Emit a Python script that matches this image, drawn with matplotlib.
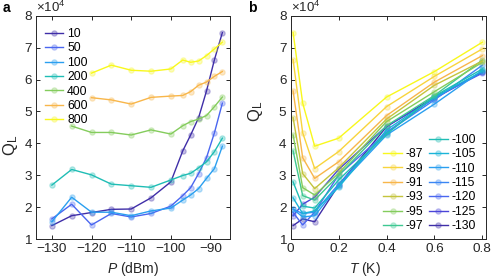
import matplotlib
matplotlib.use('Agg')
import matplotlib.pyplot as plt
from matplotlib.lines import Line2D

plt.rcParams['font.family'] = ['Liberation Sans', 'DejaVu Sans']
plt.rcParams['mathtext.fontset'] = 'custom'
plt.rcParams['mathtext.rm'] = 'Liberation Sans'
plt.rcParams['mathtext.it'] = 'Liberation Sans:italic'

# powers (dBm) and temperatures (K)
powers = [-130, -125, -120, -115, -110, -105, -100, -97, -95, -93, -91, -89, -87]
temps = [0.01, 0.05, 0.1, 0.2, 0.4, 0.6, 0.8]
temp_labels = ['10', '50', '100', '200', '400', '600', '800']

# loaded Q (x1e4) for each temperature, over the powers above
q_10 = [1.42, 1.73, 1.83, 1.93, 1.94, 2.29, 2.79, 3.76, 4.26, 4.80, 5.64, 6.62, 7.47]
q_50 = [1.63, 2.09, 1.44, 1.80, 1.69, 1.80, 2.03, 2.36, 2.61, 3.05, 3.55, 4.33, 5.26]
q_100 = [1.54, 2.31, 1.84, 1.84, 1.73, 1.88, 1.97, 2.22, 2.38, 2.58, 2.90, 3.21, 3.91]
q_200 = [2.69, 3.18, 3.01, 2.72, 2.67, 2.62, 2.85, 2.99, 3.06, 3.23, 3.42, 3.74, 4.16]
q_400 = [4.52, 4.54, 4.34, 4.34, 4.26, 4.42, 4.29, 4.55, 4.68, 4.76, 4.87, 5.15, 5.45]
q_600 = [5.45, 5.40, 5.43, 5.36, 5.23, 5.44, 5.48, 5.50, 5.62, 5.82, 5.92, 6.10, 6.25]
q_800 = [6.22, 6.25, 6.20, 6.45, 6.29, 6.26, 6.33, 6.61, 6.54, 6.58, 6.75, 6.96, 7.17]
q_all = [q_10, q_50, q_100, q_200, q_400, q_600, q_800]

# first power shown in panel a for each temperature
first_power_a = [-130, -130, -130, -130, -125, -120, -120]

# parula-like colours, dark (low) -> yellow (high)
cols13 = ['#3f2ea8', '#4a44d8', '#4a66f0', '#3a86f4', '#2a9ff0', '#1ab4d8', '#1fbdb5',
          '#3ec892', '#84cc5c', '#c4c43c', '#f8b64a', '#f8d43c', '#f8f81c']
cols7 = cols13[::2]


def face(c):
    return matplotlib.colors.to_rgba(c, 0.3)


fig = plt.figure(figsize=(4.91, 2.77), dpi=100)
W, H = 491, 277
ax_a = fig.add_axes([36 / W, 38 / H, 193.5 / W, 223.3 / H])
ax_b = fig.add_axes([290.7 / W, 38 / H, 195.3 / W, 223.3 / H])

ms = 3.8
lw = 1.0

# panel a
for i in range(len(q_all)):
    k = powers.index(first_power_a[i])
    ax_a.plot(powers[k:], q_all[i][k:], '-o', color=cols7[i], lw=lw, ms=ms,
              mfc=face(cols7[i]), mew=0.9, label=temp_labels[i])

ax_a.set_xlim(-134, -85.2)
ax_a.set_xticks([-130, -120, -110, -100, -90])
leg_a = ax_a.legend(loc='upper left', bbox_to_anchor=(0.045, 0.945), frameon=False,
                    fontsize=8.7, handlelength=1.55, handletextpad=0.3,
                    labelspacing=0.2, borderpad=0, borderaxespad=0)
ax_a.set_xlabel('$\\mathit{P}$ (dBm)', fontsize=10)

# panel b
handles = []
labels = []
for j in range(len(powers)):
    vals = [q[j] for q in q_all]
    h, = ax_b.plot(temps, vals, '-o', color=cols13[j], lw=lw, ms=ms,
                   mfc=face(cols13[j]), mew=0.9)
    handles.append(h)
    labels.append(str(powers[j]))
# legend: -87..-97 in left column, -100..-130 in right
order = list(range(len(powers)))[::-1]
hl = [handles[j] for j in order]
ll = [labels[j] for j in order]
blank = Line2D([], [], linestyle='none')
leg_b = ax_b.legend([blank] + hl, [''] + ll, ncol=2, loc='lower left',
                    bbox_to_anchor=(0.475, 0.03), frameon=False, fontsize=8.7,
                    handlelength=1.55, handletextpad=0.3, labelspacing=0.2,
                    columnspacing=0.45, borderpad=0, borderaxespad=0)
ax_b.set_xlim(0, 0.815)
ax_b.set_xticks([0, 0.2, 0.4, 0.6, 0.8])
ax_b.set_xticklabels(['0', '0.2', '0.4', '0.6', '0.8'])
ax_b.set_xlabel('$\\mathit{T}$ (K)', fontsize=10)

for ax in (ax_a, ax_b):
    ax.set_ylim(1, 8)
    ax.set_yticks(range(1, 9))
    ax.tick_params(direction='in', length=3, width=0.7, top=True, right=True,
                   labelsize=9.7, colors='#262626', pad=3)
    for s in ax.spines.values():
        s.set_linewidth(0.7)
        s.set_color('#262626')
    ax.set_ylabel('Q$_\\mathrm{L}$', fontsize=12, color='#262626')
    ax.text(0.0, 1.005, '\u00d710$^4$', transform=ax.transAxes, fontsize=9.5,
            color='#262626', ha='left', va='bottom')
    ax.xaxis.label.set_color('#262626')

ax_a.xaxis.set_label_coords(0.5, -0.095)
ax_b.xaxis.set_label_coords(0.38, -0.095)
ax_a.yaxis.set_label_coords(-0.085, 0.42)
ax_b.yaxis.set_label_coords(-0.13, 0.57)

fig.text(3 / W, 1 - 12 / H, 'a', fontsize=10, fontweight='bold')
fig.text(248 / W, 1 - 12 / H, 'b', fontsize=10, fontweight='bold')

fig.savefig('out.png', dpi=100)
